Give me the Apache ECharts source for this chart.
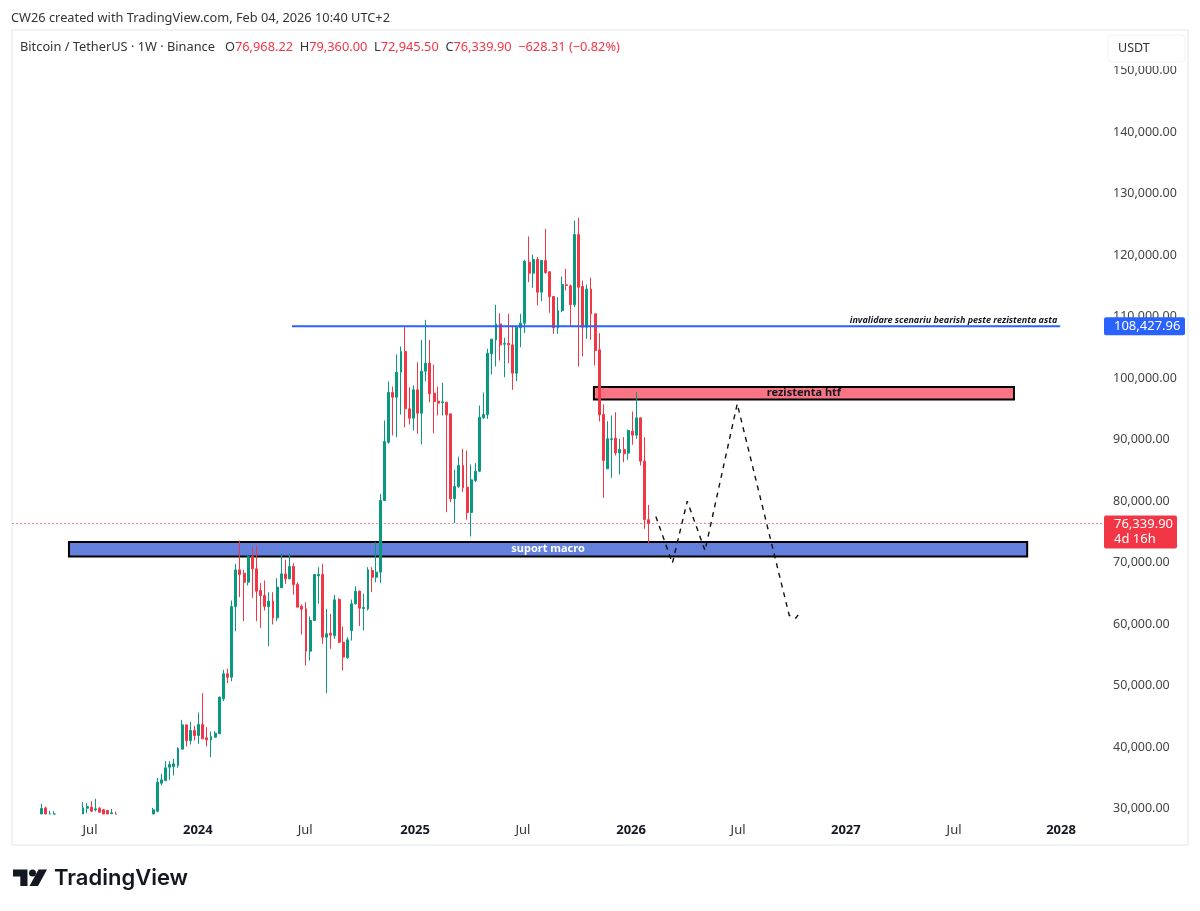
<!DOCTYPE html>
<html>
<head>
<meta charset="UTF-8">
<title>BTCUSDT 1W</title>
<script src="https://cdn.jsdelivr.net/npm/echarts@6/dist/echarts.min.js"></script>
<style>
  html, body { margin: 0; padding: 0; background: #fff; }
  #main { width: 1200px; height: 911px; }
</style>
</head>
<body>
<div id="main"></div>
<script>
// weeks are counted from the first visible candle (week of 2023-04-10)
// weeks 4-9 and 19-26 lie under the bottom of the price axis, so nothing can be read for them
// 29106 is the bottom edge of the price axis: the picture cuts those candles off there
var candleWeeks = [0,1,2,3,
  10,11,12,13,14,15,16,17,18,
  27,28,29,30,31,32,33,34,35,36,37,38,39,40,41,42,43,44,45,46,
  47,48,49,50,51,52,53,54,55,56,57,58,59,60,61,62,63,64,65,66,
  67,68,69,70,71,72,73,74,75,76,77,78,79,80,81,82,83,84,85,86,
  87,88,89,90,91,92,93,94,95,96,97,98,99,100,101,102,103,104,105,106,
  107,108,109,110,111,112,113,114,115,116,117,118,119,120,121,122,123,124,125,126,
  127,128,129,130,131,132,133,134,135,136,137,138,139,140,141,142,143,144,145,146,147];
var opens = [29106,30100,29106,29106,
  29106,30050,30214,29780,30050,29780,29670,29150,29106,
  29106,29564,34120,34550,36720,36830,37000,39650,43600,41050,42680,41870,43660,41490,41160,41600,42150,47830,51900,51350,
  62840,68800,68260,66800,70970,68970,65450,64630,62840,63710,61000,65880,68150,67340,69350,66420,62900,62460,55580,60570,
  67831,68050,57860,58510,58130,63980,57045,54500,58940,63280,65340,62520,62465,68700,67610,68430,80080,89565,97640,96880,
  100950,104310,94985,93470,98075,94280,101110,102410,97530,96230,96015,96070,94170,80405,82360,85770,82250,78130,83330,84850,
  93520,94060,103930,106200,108800,105500,105610,105390,100785,108160,108915,118840,117045,119270,113955,119105,117260,113250,108160,110975,
  115150,114985,111900,123330,114880,108265,114445,110430,104580,94065,85230,90000,90215,87830,88370,87780,91355,90705,93520,86475,76968.22];
var closes = [30000,29106,29106,29106,
  30106,30322,29564,29940,29400,29106,29106,29300,29106,
  29780,34280,34660,36610,37150,37260,39750,43600,41050,42680,41870,43660,41330,41160,41700,42250,48100,51900,51350,62840,
  68800,68050,66800,70970,68970,65340,64630,62840,63710,61000,66000,68150,67340,69350,66420,62740,62410,55580,60570,68050,
  68050,57860,58400,58180,63930,57045,54610,57420,63280,65340,62570,62680,68810,67610,68430,80080,89670,97640,96880,100950,
  104310,94985,93470,98075,94280,101110,102410,97420,96180,95910,96120,94010,80350,82360,85770,82140,78130,83440,84850,93630,
  94060,104040,106310,108800,105390,105610,105390,100785,108265,108915,118990,117045,119270,113955,119105,117150,113250,108160,110975,115200,
  115040,111900,123330,114770,108265,114445,110430,104470,94010,86590,90110,90110,87830,88370,87670,91465,90705,93520,86475,76968.22,76339.90];
var lows = [29106,29106,29106,29106,
  29106,29240,29400,29510,29400,29106,29106,29106,29106,
  29106,29400,33740,34440,34660,35360,36610,39650,40080,40400,41050,40510,41330,40080,38340,41500,42150,47450,50380,50700,
  58830,64360,60460,66260,64250,60460,59370,62190,56390,59920,60460,65880,66530,67340,64790,62740,58290,53250,54060,60570,
  63300,56770,48750,55960,57590,56880,52440,54335,57320,63170,59650,58940,62190,65175,66800,66640,79970,89300,90650,90380,
  94060,92000,92440,91460,90920,89190,99480,96070,91030,93900,93900,78180,79810,76400,82140,81440,76940,74230,83060,84690,
  93360,93360,100570,101870,102840,100135,102410,98075,99480,105015,107340,115580,114660,111790,112490,116940,110600,107180,107180,110700,
  114230,108370,111520,101870,103500,106370,106205,102030,92930,80515,85230,83770,87400,84310,86315,86695,89130,90110,85770,75475,72945.50];
var highs = [30756,30300,29650,29550,
  31027,30860,31190,31570,30215,29940,29780,29940,29510,
  30100,34980,35640,37690,37690,38070,39970,44420,43600,44090,43440,45610,48750,43220,42520,42570,48210,52550,52760,63820,
  69800,73570,68800,71300,72500,72760,66640,67070,65170,65170,67450,71510,70430,71510,69890,66800,63170,63550,61220,68160,
  69240,69780,62465,61650,64740,64200,59590,57860,63980,66150,65450,64900,69240,69240,73305,81165,93090,99430,98620,103820,
  105120,108260,98500,98780,102570,106200,109450,106200,102190,98620,99210,96070,94170,85070,87230,88480,88210,85940,86150,95530,
  97640,104740,106370,111900,110540,106530,110430,108540,108540,110430,119210,123010,120080,119650,119210,124250,117370,113250,113140,116500,
  117750,115200,125610,126040,115850,115200,116290,110430,107290,95690,92980,93900,94445,90110,90380,91625,94550,97700,93520,90380,79360];

var priceTicks = [30000,40000,50000,60000,70000,80000,90000,100000,110000,120000,130000,140000,150000];
var timeTickWeeks = [11.7,37.8,63.8,90.4,116.5,142.7,168.6,194.7,220.9,246.8];
var timeTickLabels = ['Jul','2024','Jul','2025','Jul','2026','Jul','2027','Jul','2028'];

// drawn scenario, [week, price]
var scenarioWeeks = [148.7,152.7,156.3,160.6,168.4,181,182.6,183.6];
var scenarioPrices = [77480,69890,79970,71950,95800,61380,60940,61920];

var invalidationPrice = 108427.96;
var invalidationWeeks = [60.6,246.6];
var invalidationNote = 'invalidare scenariu bearish peste rezistenta asta';
var lastPrice = 76339.90;
var countdown = '4d 16h';

var zoneNames = ['suport macro','rezistenta htf'];
var zoneStarts = [6.6,133.7];
var zoneEnds = [238.6,235.4];
var zoneLows = [70975,96503];
var zoneHighs = [73334,98536];

var headerText = 'CW26 created with TradingView.com, Feb 04, 2026 10:40 UTC+2';
var symbolText = 'Bitcoin / TetherUS · 1W · Binance';
var ohlcNames = ['O','H','L','C'];
var ohlcValues = ['76,968.22','79,360.00','72,945.50','76,339.90'];
var changeText = '−628.31 (−0.82%)';

var up = '#089981', down = '#f23645', blue = '#2962ff';
var font = '"Noto Sans", sans-serif';
var axisMin = -7.19, axisMax = 257.2;

var legendRich = '{k|' + symbolText + '}';
ohlcNames.forEach(function (n, i) {
  legendRich += '{k|' + (i === 0 ? '   ' : '  ') + n + '}{v|' + ohlcValues[i] + '}';
});
legendRich += '{v|  ' + changeText + '}';

var candleData = candleWeeks.map(function (w, i) {
  return [w, opens[i], closes[i], lows[i], highs[i]];
});

var myChart = echarts.init(document.getElementById('main'));
var option = {
  animation: false,
  backgroundColor: '#fff',
  grid: { left: 12, top: 31, width: 1092, height: 783 },
  xAxis: {
    type: 'value',
    min: axisMin,
    max: axisMax,
    splitLine: { show: false },
    axisLine: { show: false },
    axisTick: { show: false },
    axisLabel: {
      customValues: timeTickWeeks,
      margin: 10,
      hideOverlap: false,
      formatter: function (v) {
        var t = timeTickLabels[timeTickWeeks.indexOf(v)];
        return t === 'Jul' ? t : '{y|' + t + '}';
      },
      color: '#333',
      fontFamily: font,
      fontSize: 13,
      rich: { y: { fontFamily: font, fontSize: 13, fontWeight: 'bold', color: '#131722' } }
    }
  },
  yAxis: {
    type: 'value',
    position: 'right',
    min: 29106,
    max: 156422,
    splitLine: { show: false },
    axisLine: { show: false },
    axisTick: { show: false },
    axisLabel: {
      customValues: priceTicks,
      margin: 9,
      hideOverlap: false,
      color: '#444',
      fontFamily: font,
      fontSize: 12.5,
      formatter: function (v) {
        return v.toLocaleString('en-US', { minimumFractionDigits: 2 });
      }
    }
  },
  series: [
    {
      name: 'zones',
      type: 'custom',
      z: 1,
      silent: true,
      data: zoneNames.map(function (n, i) {
        return [zoneStarts[i], zoneEnds[i], zoneLows[i], zoneHighs[i]];
      }),
      renderItem: function (params, api) {
        var a = api.coord([api.value(0), api.value(3)]);
        var b = api.coord([api.value(1), api.value(2)]);
        var isSupport = params.dataIndex === 0;
        return {
          type: 'group',
          children: [
            {
              type: 'rect',
              shape: { x: a[0], y: a[1], width: b[0] - a[0], height: b[1] - a[1] },
              style: { fill: isSupport ? '#6280dc' : '#fa7583', stroke: '#000', lineWidth: 2 }
            },
            {
              type: 'text',
              style: {
                x: (a[0] + b[0]) / 2,
                y: (a[1] + b[1]) / 2,
                text: zoneNames[params.dataIndex],
                align: 'center',
                verticalAlign: 'middle',
                fill: isSupport ? '#fff' : '#131722',
                font: 'bold 11px ' + font
              }
            }
          ]
        };
      }
    },
    {
      name: 'last price',
      type: 'line',
      z: 1,
      symbol: 'none',
      silent: true,
      data: [[axisMin, lastPrice], [axisMax, lastPrice]],
      lineStyle: { color: '#f4808b', width: 1, type: [2, 2] }
    },
    {
      name: 'BTCUSDT',
      type: 'candlestick',
      z: 2,
      barWidth: 2.4,
      data: candleData,
      itemStyle: { color: up, color0: down, borderColor: up, borderColor0: down, borderWidth: 1 }
    },
    {
      name: 'invalidation',
      type: 'line',
      z: 3,
      symbol: 'none',
      silent: true,
      data: invalidationWeeks.map(function (w) { return [w, invalidationPrice]; }),
      lineStyle: { color: blue, width: 2 }
    },
    {
      name: 'scenario',
      type: 'line',
      z: 3,
      symbol: 'none',
      silent: true,
      data: scenarioWeeks.map(function (w, i) { return [w, scenarioPrices[i]]; }),
      lineStyle: { color: '#111', width: 1.4, type: [5, 5] }
    },
    {
      name: 'tags',
      type: 'custom',
      z: 5,
      silent: true,
      data: [[axisMax, invalidationPrice], [axisMax, lastPrice], [invalidationWeeks[1], invalidationPrice]],
      renderItem: function (params, api) {
        var p = api.coord([api.value(0), api.value(1)]);
        var tagFont = '13px ' + font;
        if (params.dataIndex === 0) {
          return {
            type: 'group',
            children: [
              { type: 'rect', shape: { x: p[0], y: p[1] - 9, width: 81, height: 18, r: 2 }, style: { fill: blue } },
              { type: 'text', style: { x: p[0] + 10, y: p[1], text: '108,427.96', fill: '#fff', font: tagFont, verticalAlign: 'middle' } }
            ]
          };
        }
        if (params.dataIndex === 1) {
          return {
            type: 'group',
            children: [
              { type: 'rect', shape: { x: p[0], y: p[1] - 8, width: 73, height: 33, r: 2 }, style: { fill: down } },
              { type: 'text', style: { x: p[0] + 10, y: p[1] + 1, text: '76,339.90', fill: '#fff', font: tagFont, verticalAlign: 'middle' } },
              { type: 'text', style: { x: p[0] + 10, y: p[1] + 16, text: countdown, fill: '#fff', font: tagFont, verticalAlign: 'middle' } }
            ]
          };
        }
        return {
          type: 'text',
          style: { x: p[0] - 3, y: p[1] - 6, text: invalidationNote, fill: '#131722', font: 'italic bold 9px ' + font, align: 'right', verticalAlign: 'middle' }
        };
      }
    }
  ],
  graphic: [
    { type: 'rect', z: -1, shape: { x: 12, y: 30, width: 1176, height: 815 }, style: { fill: '#fff', stroke: '#f0f3f6', lineWidth: 2 } },
    { type: 'text', z: 20, style: { x: 11, y: 18, text: headerText, fill: '#333', font: '12.8px ' + font, verticalAlign: 'middle' } },
    {
      type: 'text',
      z: 20,
      style: {
        x: 20,
        y: 47,
        text: legendRich,
        verticalAlign: 'middle',
        rich: {
          k: { fontFamily: font, fontSize: 12.8, fill: '#333' },
          v: { fontFamily: font, fontSize: 12.8, fill: down }
        }
      }
    },
    // button covers the top of the 150,000.00 label, like in the screenshot
    { type: 'rect', z: 20, shape: { x: 1106, y: 32, width: 80, height: 34 }, style: { fill: '#fff' } },
    { type: 'rect', z: 21, shape: { x: 1108, y: 35, width: 77, height: 27, r: 4 }, style: { fill: '#fff', stroke: '#f0f3f6', lineWidth: 1 } },
    { type: 'text', z: 22, style: { x: 1118, y: 48, text: 'USDT', fill: '#333', font: '12.5px ' + font, verticalAlign: 'middle' } },
    // TradingView logo
    { type: 'polygon', z: 20, shape: { points: [[13, 869.5], [27.5, 869.5], [27.5, 886], [20.3, 886], [20.3, 876.5], [13, 876.5]] }, style: { fill: '#131722' } },
    { type: 'circle', z: 20, shape: { cx: 32.5, cy: 873, r: 3.5 }, style: { fill: '#131722' } },
    { type: 'polygon', z: 20, shape: { points: [[38.5, 869.5], [47, 869.5], [38, 886], [29.5, 886]] }, style: { fill: '#131722' } },
    { type: 'text', z: 20, style: { x: 54, y: 878, text: 'TradingView', fill: '#131722', font: '600 22px Inter, sans-serif', verticalAlign: 'middle' } }
  ]
};
myChart.setOption(option);
</script>
</body>
</html>
